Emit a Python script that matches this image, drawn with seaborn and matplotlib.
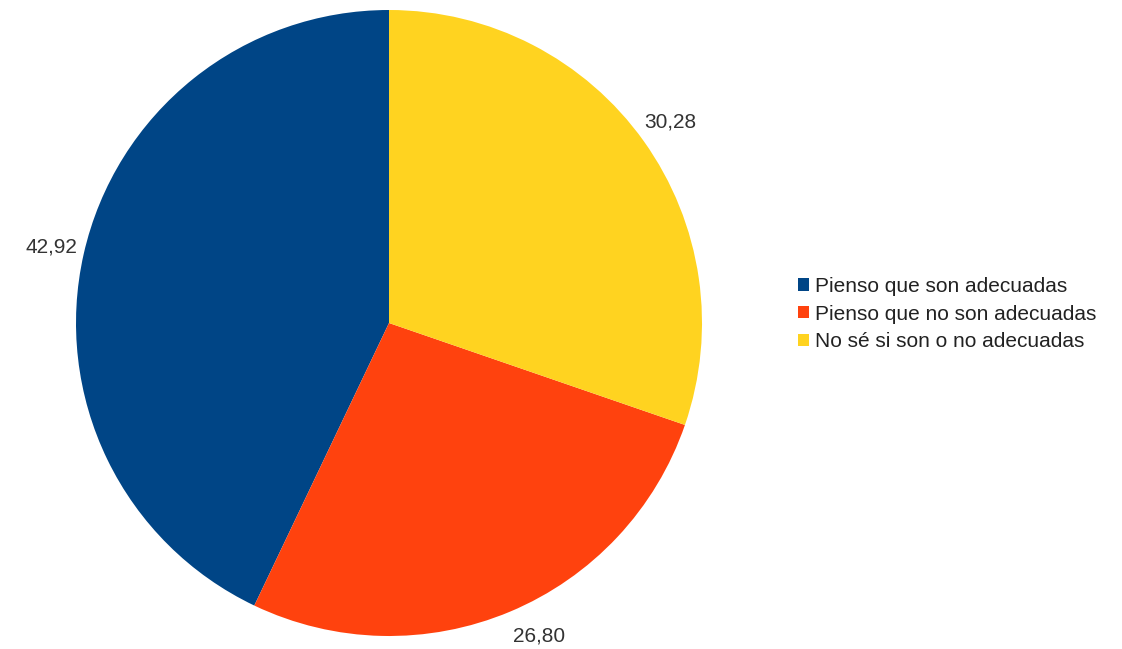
import matplotlib
matplotlib.use('Agg')
import matplotlib.pyplot as plt
import seaborn as sns

sns.set_style('white')
plt.rcParams['font.family'] = ['Liberation Sans', 'DejaVu Sans']

categories = ['Pienso que son adecuadas', 'Pienso que no son adecuadas', 'No sé si son o no adecuadas']
values = [42.92, 26.80, 30.28]
colors = ['#004586', '#ff420e', '#ffd320']
value_labels = [f'{v:.2f}'.replace('.', ',') for v in values]

W, H = 1122, 649
fig = plt.figure(figsize=(W / 100, H / 100), dpi=100)
fig.patch.set_facecolor('white')

cx, cy, r = 389, 323, 313
ax = fig.add_axes([(cx - r) / W, (H - cy - r) / H, 2 * r / W, 2 * r / H])
wedges, texts = ax.pie(values, labels=value_labels, colors=colors, startangle=90,
                       counterclock=True, labeldistance=1.105, radius=1,
                       textprops={'fontsize': 15, 'color': '#333333'},
                       wedgeprops={'linewidth': 0})
for t in texts:
    t.set_ha('center'); t.set_va('center')
    x, y = t.get_position()
    if y < -1.0:
        # keep the bottom label inside the figure
        t.set_position((x * 1.12, -1.0))
ax.set_xlim(-1, 1); ax.set_ylim(-1, 1)
ax.set_aspect('equal')
ax.axis('off')

fig.legend(wedges, categories, loc='center left', bbox_to_anchor=(798 / W, 1 - 314 / H),
           frameon=False, fontsize=15, handlelength=0.55, handleheight=0.55,
           handletextpad=0.25, labelspacing=0.42, borderpad=0, borderaxespad=0,
           labelcolor='#222222')

plt.savefig('out.png', dpi=100, facecolor='white')
plt.close()
